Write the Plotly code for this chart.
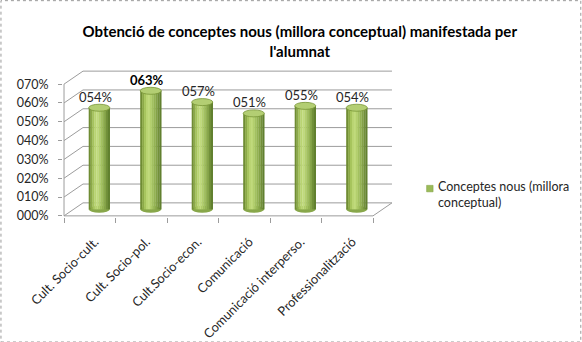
import plotly.graph_objects as go

# ---- data ----
categories = ["Cult. Socio-cult.", "Cult. Socio-pol.", "Cult.Socio-econ.",
              "Comunicació", "Comunicació interperso.", "Professionalització"]
values = [0.54, 0.63, 0.57, 0.51, 0.55, 0.54]
tick_values = [0.0, 0.1, 0.2, 0.3, 0.4, 0.5, 0.6, 0.7]
tick_labels = [f"{round(v * 100):03d}%" for v in tick_values]
series_name = "Conceptes nous (millora<br>conceptual)"
title_text = "Obtenció de conceptes nous (millora conceptual) manifestada per<br>l'alumnat"

# ---- geometry of the pseudo-3D frame (in data units) ----
W_FIG, H_FIG = 582, 342
PX_PER_CAT = 51.6      # horizontal scale
PX_PER_UNIT = 188.0    # vertical scale
CAT0_PX = 99.0         # pixel x of first category (mid depth)
ZERO_PX = 209.0        # pixel y of value 0 (mid depth)
DX = 9.5 / PX_PER_CAT  # half depth, horizontal
DY = 6.5 / PX_PER_UNIT # half depth, vertical
n = len(categories)
vmax = tick_values[-1]
pad_x, pad_y = 0.02, 0.006

x_range = [-0.5 - DX - pad_x, n - 0.5 + DX + pad_x]
y_range = [-DY - pad_y, vmax + DY + pad_y]
L = CAT0_PX + x_range[0] * PX_PER_CAT
R = W_FIG - (CAT0_PX + x_range[1] * PX_PER_CAT)
T = ZERO_PX - y_range[1] * PX_PER_UNIT
B = H_FIG - (ZERO_PX - y_range[0] * PX_PER_UNIT)
PW, PH = W_FIG - L - R, H_FIG - T - B

def paper_x(px):
    return (px - L) / PW

def paper_y(py):
    return 1 - (py - T) / PH

GRID = "#9c9c9c"
TEXT = "#262626"
FONT = "Lato"
SERIES_COLOR = "#9bbb59"

fig = go.Figure()

# ---- cylinders: vertical shading strips ----
BAR_W = 0.41
strip_colors = ["#6f8c33", "#8caa47", "#a6c45c", "#b9d472", "#c0da7c",
                "#b3cf6d", "#a3c160", "#94b353", "#84a347", "#72903a", "#61802f"]
ns = len(strip_colors)
for j, c in enumerate(strip_colors):
    fig.add_trace(go.Bar(
        x=list(range(n)), y=values, base=0,
        offset=-BAR_W / 2 + j * BAR_W / ns, width=BAR_W / ns + 0.004,
        marker=dict(color=c, line=dict(width=0)),
        showlegend=False, hoverinfo="skip",
    ))

shapes = []
line = dict(color=GRID, width=1)
# side wall + back wall gridlines
for v in tick_values:
    shapes.append(dict(type="line", xref="x", yref="y", layer="below",
                       x0=-0.5 - DX, y0=v - DY, x1=-0.5 + DX, y1=v + DY, line=line))
    shapes.append(dict(type="line", xref="x", yref="y", layer="below",
                       x0=-0.5 + DX, y0=v + DY, x1=n - 0.5 + DX, y1=v + DY, line=line))
# floor front edge and right edge
shapes.append(dict(type="line", xref="x", yref="y", layer="below",
                   x0=-0.5 - DX, y0=-DY, x1=n - 0.5 - DX, y1=-DY, line=line))
shapes.append(dict(type="line", xref="x", yref="y", layer="below",
                   x0=n - 0.5 - DX, y0=-DY, x1=n - 0.5 + DX, y1=DY, line=line))
# value axis line (front-left edge)
shapes.append(dict(type="line", xref="x", yref="y", layer="below",
                   x0=-0.5 - DX, y0=-DY, x1=-0.5 - DX, y1=vmax - DY, line=line))

# rounded bottoms and tops of cylinders
for i, v in enumerate(values):
    shapes.append(dict(type="circle", xref="x", yref="y", layer="below",
                       x0=i - BAR_W / 2, x1=i + BAR_W / 2,
                       ysizemode="pixel", yanchor=0, y0=-3.5, y1=3.5,
                       fillcolor="#88a74a", line=dict(width=0)))
    shapes.append(dict(type="circle", xref="x", yref="y", layer="above",
                       x0=i - BAR_W / 2, x1=i + BAR_W / 2,
                       ysizemode="pixel", yanchor=v, y0=-3.5, y1=3.5,
                       fillcolor="#b3ce73", line=dict(color="#789637", width=0.8)))

# legend key
shapes.append(dict(type="rect", xref="paper", yref="paper",
                   x0=paper_x(427), x1=paper_x(433.5), y0=paper_y(191.5), y1=paper_y(185),
                   fillcolor=SERIES_COLOR, line=dict(color="#7f9e3e", width=0.5)))

# outer border of the chart area
shapes.append(dict(type="rect", xref="paper", yref="paper",
                   x0=paper_x(0.5), x1=paper_x(W_FIG - 0.5),
                   y0=paper_y(H_FIG - 0.5), y1=paper_y(0.5),
                   line=dict(color="#9a9a9a", width=1, dash="dot")))

# data labels
vmax_data = max(values)
annotations = []
for i, v in enumerate(values):
    top = v == vmax_data
    annotations.append(dict(
        x=i, y=v, xref="x", yref="y", text=f"{round(v * 100):03d}%",
        showarrow=False, yanchor="middle", yshift=11, xshift=-4,
        font=dict(family=FONT, size=13, color="#000000" if top else TEXT,
                  weight="bold" if top else "normal"),
    ))

# legend text
annotations.append(dict(
    x=paper_x(436), y=paper_y(177), xref="paper", yref="paper",
    xanchor="left", yanchor="top", align="left", showarrow=False,
    text=series_name, font=dict(family=FONT, size=12.5, color=TEXT),
))

fig.update_layout(
    width=W_FIG, height=H_FIG, autosize=False,
    margin=dict(l=L, r=R, t=T, b=B, autoexpand=False),
    paper_bgcolor="white", plot_bgcolor="rgba(0,0,0,0)",
    barmode="overlay", showlegend=False,
    title=dict(text=title_text, x=0.515, xanchor="center", xref="container",
               y=1 - 37 / H_FIG, yanchor="top", yref="container",
               font=dict(family=FONT, size=15, color="#000000", weight="bold")),
    xaxis=dict(range=x_range, showgrid=False, zeroline=False, showline=False,
               tickmode="array", tickvals=[i - DX for i in range(n)],
               ticktext=categories, tickangle=-45, ticks="", ticklen=0,
               ticklabelstandoff=14, ticklabelshift=5,
               tickfont=dict(family=FONT, size=12.8, color=TEXT),
               minor=dict(tickmode="linear", tick0=-0.5 - DX, dtick=1,
                          ticks="outside", ticklen=5, tickcolor=GRID, showgrid=False)),
    yaxis=dict(range=y_range, showgrid=False, zeroline=False, showline=False,
               tickmode="array", tickvals=[v - DY for v in tick_values],
               ticktext=tick_labels, ticks="outside", ticklen=4, tickcolor=GRID,
               ticklabelstandoff=7,
               tickfont=dict(family=FONT, size=12.5, color=TEXT)),
    shapes=shapes, annotations=annotations,
)

fig.write_html("out.html")
